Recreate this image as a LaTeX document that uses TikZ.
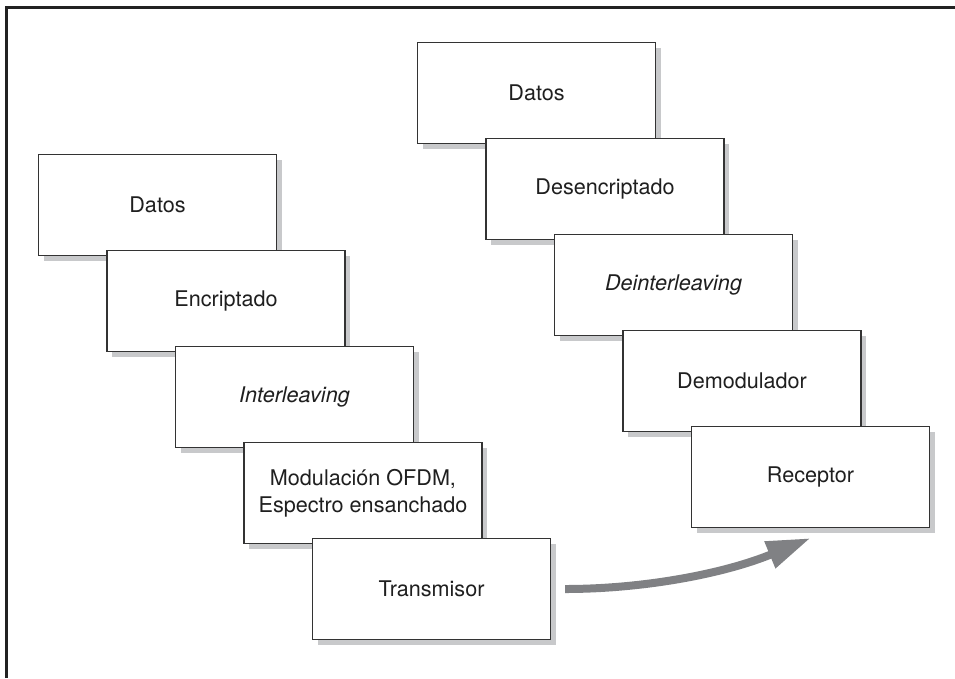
\documentclass[tikz,border=0pt]{standalone}
\usepackage{fontspec}
\setmainfont{TeX Gyre Heros}
\usetikzlibrary{shadows,arrows.meta}
\definecolor{frameDark}{HTML}{222222}
\definecolor{boxLine}{HTML}{333333}
\definecolor{arrowGray}{HTML}{808184}
\definecolor{shadowGray}{HTML}{C8C9CB}

\begin{document}
\begin{tikzpicture}[x=1pt, y=-1pt,
    stage/.style={draw=boxLine, line width=1.3pt, fill=white,
        minimum width=238pt, minimum height=101pt, align=center,
        font=\fontsize{21.6}{27}\selectfont, text=black!88,
        drop shadow={shadow xshift=5pt, shadow yshift=-5pt, fill=shadowGray, opacity=1}}]
    \useasboundingbox (0,0) rectangle (955,678);
    \draw[frameDark, line width=3pt] (6,678) -- (6,7) -- (955,7);
    % emisor
    \foreach \txt [count=\i from 0] in {Datos, Encriptado, \itshape Interleaving,
            {Modulación OFDM,\\Espectro ensanchado}, Transmisor}
        \node[stage] (tx\i) at (157.5+68.5*\i, 205+96*\i) {\txt};
    % receptor
    \foreach \txt [count=\i from 0] in {Datos, Desencriptado, \itshape Deinterleaving,
            Demodulador, Receptor}
        \node[stage] (rx\i) at (536.5+68.5*\i, 93+96*\i) {\txt};
    \draw[arrowGray, line width=8pt, -{Triangle[length=44pt, width=27pt]}]
        ([xshift=14pt]tx4.east) .. controls +(80,0) and +(-85,35) .. ([yshift=-10pt]rx4.south);
\end{tikzpicture}
\end{document}
